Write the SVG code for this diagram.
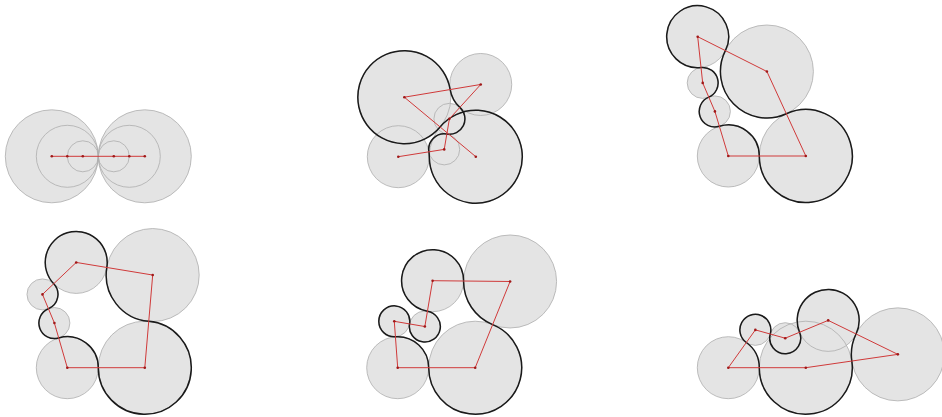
<svg xmlns="http://www.w3.org/2000/svg" xmlns:xlink="http://www.w3.org/1999/xlink" width="942" height="417" viewBox="0 0 942 417">
<style>
.f{fill:#e4e4e4;stroke:none}
.o{fill:none;stroke:#adadad;stroke-width:0.8}
.k{fill:none;stroke:#1a1a1a;stroke-width:1.5;stroke-linejoin:round}
.r{fill:none;stroke:#d03a3a;stroke-width:1}
.d{fill:#a01818}
</style>
<defs>
<circle id="a1" cx="51.8" cy="156.3" r="46.5"/>
<circle id="a2" cx="67.3" cy="156.3" r="31"/>
<circle id="a3" cx="82.8" cy="156.3" r="15.5"/>
<circle id="a4" cx="113.8" cy="156.3" r="15.5"/>
<circle id="a5" cx="129.3" cy="156.3" r="31"/>
<circle id="a6" cx="144.8" cy="156.3" r="46.5"/>
<circle id="b1" cx="404.33" cy="97.19" r="46.5"/>
<circle id="b2" cx="480.74" cy="84.46" r="31"/>
<circle id="b3" cx="449.42" cy="118.83" r="15.5"/>
<circle id="b4" cx="444.22" cy="149.39" r="15.5"/>
<circle id="b5" cx="398.3" cy="156.7" r="31"/>
<circle id="b6" cx="475.8" cy="156.7" r="46.5"/>
<circle id="c1" cx="697.7" cy="36.7" r="31"/>
<circle id="c2" cx="702.7" cy="82.9" r="15.5"/>
<circle id="c3" cx="714.9" cy="111.4" r="15.5"/>
<circle id="c4" cx="728.3" cy="156" r="31"/>
<circle id="c5" cx="805.8" cy="156" r="46.5"/>
<circle id="c6" cx="766.9" cy="71.5" r="46.5"/>
<circle id="e1" cx="76.23" cy="262.43" r="31"/>
<circle id="e2" cx="152.7" cy="275.04" r="46.5"/>
<circle id="e3" cx="144.8" cy="367.7" r="46.5"/>
<circle id="e4" cx="67.3" cy="367.7" r="31"/>
<circle id="e5" cx="54.4" cy="323.03" r="15.5"/>
<circle id="e6" cx="42.47" cy="294.41" r="15.5"/>
<circle id="g1" cx="432.59" cy="280.7" r="31"/>
<circle id="g2" cx="510.09" cy="281.49" r="46.5"/>
<circle id="g3" cx="475.2" cy="367.7" r="46.5"/>
<circle id="g4" cx="397.7" cy="367.7" r="31"/>
<circle id="g5" cx="394.29" cy="321.32" r="15.5"/>
<circle id="g6" cx="424.85" cy="326.54" r="15.5"/>
<circle id="h1" cx="728.3" cy="367.7" r="31"/>
<circle id="h2" cx="805.8" cy="367.7" r="46.5"/>
<circle id="h3" cx="897.84" cy="354.37" r="46.5"/>
<circle id="h4" cx="828.19" cy="320.39" r="31"/>
<circle id="h5" cx="785.23" cy="338.2" r="15.5"/>
<circle id="h6" cx="755.36" cy="329.89" r="15.5"/>
</defs>
<rect width="942" height="417" fill="#ffffff"/>

<g id="panel1">
<g id="panel1-fills" class="f"><use xlink:href="#a1"/><use xlink:href="#a6"/><use xlink:href="#a2"/><use xlink:href="#a5"/><use xlink:href="#a3"/><use xlink:href="#a4"/></g>
<g id="panel1-outlines" class="o"><use xlink:href="#a1"/><use xlink:href="#a6"/><use xlink:href="#a2"/><use xlink:href="#a5"/><use xlink:href="#a3"/><use xlink:href="#a4"/></g>
<g id="panel1-connectors"><polyline class="r" points="51.8,156.3 144.8,156.3"/></g>
<g id="panel1-centers" class="d"><circle cx="51.8" cy="156.3" r="1.3"/><circle cx="67.3" cy="156.3" r="1.3"/><circle cx="82.8" cy="156.3" r="1.3"/><circle cx="113.8" cy="156.3" r="1.3"/><circle cx="129.3" cy="156.3" r="1.3"/><circle cx="144.8" cy="156.3" r="1.3"/></g>
</g>

<g id="panel2">
<g id="panel2-fills" class="f"><use xlink:href="#b1"/><use xlink:href="#b2"/><use xlink:href="#b3"/><use xlink:href="#b4"/><use xlink:href="#b5"/><use xlink:href="#b6"/></g>
<g id="panel2-outlines" class="o"><use xlink:href="#b1"/><use xlink:href="#b2"/><use xlink:href="#b3"/><use xlink:href="#b4"/><use xlink:href="#b5"/><use xlink:href="#b6"/></g>
<path id="panel2-curve" class="k" d="M440.07,126.94 A46.5,46.5 0 1 1 450.19,89.55 A31,31 0 0 0 459.86,107.37 A15.5,15.5 0 0 1 446.82,134.11 A15.5,15.5 0 0 0 428.91,151.83 A31,31 0 0 1 429.3,156.7 A46.5,46.5 0 1 0 440.07,126.94 Z"/>
<g id="panel2-connectors"><polyline class="r" points="475.8,156.7 404.33,97.19 480.74,84.46 449.42,118.83 444.22,149.39 398.3,156.7"/></g>
<g id="panel2-centers" class="d"><circle cx="404.33" cy="97.19" r="1.3"/><circle cx="480.74" cy="84.46" r="1.3"/><circle cx="449.42" cy="118.83" r="1.3"/><circle cx="444.22" cy="149.39" r="1.3"/><circle cx="398.3" cy="156.7" r="1.3"/><circle cx="475.8" cy="156.7" r="1.3"/></g>
</g>

<g id="panel3">
<g id="panel3-fills" class="f"><use xlink:href="#c1"/><use xlink:href="#c2"/><use xlink:href="#c3"/><use xlink:href="#c4"/><use xlink:href="#c5"/><use xlink:href="#c6"/></g>
<g id="panel3-outlines" class="o"><use xlink:href="#c1"/><use xlink:href="#c2"/><use xlink:href="#c3"/><use xlink:href="#c4"/><use xlink:href="#c5"/><use xlink:href="#c6"/></g>
<path id="panel3-curve" class="k" d="M725.38,50.62 A31,31 0 1 0 701.05,67.52 A15.5,15.5 0 0 1 708.79,97.16 A15.5,15.5 0 0 0 719.37,126.27 A31,31 0 0 1 759.3,156 A46.5,46.5 0 1 0 786.35,113.75 A46.5,46.5 0 0 1 725.38,50.62 Z"/>
<g id="panel3-connectors"><polygon class="r" points="697.7,36.7 702.7,82.9 714.9,111.4 728.3,156 805.8,156 766.9,71.5"/></g>
<g id="panel3-centers" class="d"><circle cx="697.7" cy="36.7" r="1.3"/><circle cx="702.7" cy="82.9" r="1.3"/><circle cx="714.9" cy="111.4" r="1.3"/><circle cx="728.3" cy="156" r="1.3"/><circle cx="805.8" cy="156" r="1.3"/><circle cx="766.9" cy="71.5" r="1.3"/></g>
</g>

<g id="panel4">
<g id="panel4-fills" class="f"><use xlink:href="#e1"/><use xlink:href="#e2"/><use xlink:href="#e3"/><use xlink:href="#e4"/><use xlink:href="#e5"/><use xlink:href="#e6"/></g>
<g id="panel4-outlines" class="o"><use xlink:href="#e1"/><use xlink:href="#e2"/><use xlink:href="#e3"/><use xlink:href="#e4"/><use xlink:href="#e5"/><use xlink:href="#e6"/></g>
<path id="panel4-curve" class="k" d="M53.72,283.75 A31,31 0 1 1 106.82,267.47 A46.5,46.5 0 0 0 148.75,321.37 A46.5,46.5 0 1 1 98.3,367.7 A31,31 0 0 0 58.7,337.92 A15.5,15.5 0 0 1 48.44,308.72 A15.5,15.5 0 0 0 53.72,283.75 Z"/>
<g id="panel4-connectors"><polygon class="r" points="76.23,262.43 152.7,275.04 144.8,367.7 67.3,367.7 54.4,323.03 42.47,294.41"/></g>
<g id="panel4-centers" class="d"><circle cx="76.23" cy="262.43" r="1.3"/><circle cx="152.7" cy="275.04" r="1.3"/><circle cx="144.8" cy="367.7" r="1.3"/><circle cx="67.3" cy="367.7" r="1.3"/><circle cx="54.4" cy="323.03" r="1.3"/><circle cx="42.47" cy="294.41" r="1.3"/></g>
</g>

<g id="panel5">
<g id="panel5-fills" class="f"><use xlink:href="#g1"/><use xlink:href="#g2"/><use xlink:href="#g3"/><use xlink:href="#g4"/><use xlink:href="#g5"/><use xlink:href="#g6"/></g>
<g id="panel5-outlines" class="o"><use xlink:href="#g1"/><use xlink:href="#g2"/><use xlink:href="#g3"/><use xlink:href="#g4"/><use xlink:href="#g5"/><use xlink:href="#g6"/></g>
<path id="panel5-curve" class="k" d="M427.43,311.26 A31,31 0 1 1 463.59,281.02 A46.5,46.5 0 0 0 492.64,324.6 A46.5,46.5 0 1 1 428.7,367.7 A31,31 0 0 0 395.43,336.78 A15.5,15.5 0 1 1 409.57,323.93 A15.5,15.5 0 1 0 427.43,311.26 Z"/>
<g id="panel5-connectors"><polygon class="r" points="432.59,280.7 510.09,281.49 475.2,367.7 397.7,367.7 394.29,321.32 424.85,326.54"/></g>
<g id="panel5-centers" class="d"><circle cx="432.59" cy="280.7" r="1.3"/><circle cx="510.09" cy="281.49" r="1.3"/><circle cx="475.2" cy="367.7" r="1.3"/><circle cx="397.7" cy="367.7" r="1.3"/><circle cx="394.29" cy="321.32" r="1.3"/><circle cx="424.85" cy="326.54" r="1.3"/></g>
</g>

<g id="panel6">
<g id="panel6-fills" class="f"><use xlink:href="#h1"/><use xlink:href="#h2"/><use xlink:href="#h3"/><use xlink:href="#h4"/><use xlink:href="#h5"/><use xlink:href="#h6"/></g>
<g id="panel6-outlines" class="o"><use xlink:href="#h1"/><use xlink:href="#h2"/><use xlink:href="#h3"/><use xlink:href="#h4"/><use xlink:href="#h5"/><use xlink:href="#h6"/></g>
<path id="panel6-curve" class="k" d="M746.34,342.49 A31,31 0 0 1 759.3,367.7 A46.5,46.5 0 1 0 851.82,361.04 A46.5,46.5 0 0 1 856.05,333.98 A31,31 0 1 0 799.55,332.26 A15.5,15.5 0 1 1 770.3,334.05 A15.5,15.5 0 1 0 746.34,342.49 Z"/>
<g id="panel6-connectors"><polygon class="r" points="728.3,367.7 805.8,367.7 897.84,354.37 828.19,320.39 785.23,338.2 755.36,329.89"/></g>
<g id="panel6-centers" class="d"><circle cx="728.3" cy="367.7" r="1.3"/><circle cx="805.8" cy="367.7" r="1.3"/><circle cx="897.84" cy="354.37" r="1.3"/><circle cx="828.19" cy="320.39" r="1.3"/><circle cx="785.23" cy="338.2" r="1.3"/><circle cx="755.36" cy="329.89" r="1.3"/></g>
</g>
</svg>
